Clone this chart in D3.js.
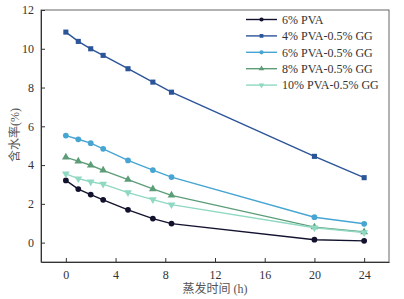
<!DOCTYPE html>
<html>
<head>
<meta charset="utf-8">
<script src="https://cdn.jsdelivr.net/npm/d3@7"></script>
<style>
  body { margin: 0; background: #fff; }
  svg { display: block; font-family: "Liberation Serif", "Noto Sans CJK SC", serif; }
</style>
</head>
<body>
<div id="chart"></div>
<script>
// evaporation time (h)
var hours = [0, 1, 2, 3, 5, 7, 8.5, 20, 24];

// water content (%) for each sample
var pva6 = [3.21, 2.76, 2.48, 2.21, 1.69, 1.24, 0.98, 0.15, 0.09];
var pva4gg = [10.86, 10.38, 10.0, 9.66, 8.97, 8.28, 7.76, 4.45, 3.35];
var pva6gg = [5.52, 5.33, 5.13, 4.84, 4.24, 3.74, 3.38, 1.31, 0.97];
var pva8gg = [4.40, 4.20, 3.99, 3.73, 3.25, 2.77, 2.44, 0.80, 0.55];
var pva10gg = [3.55, 3.30, 3.14, 3.02, 2.58, 2.22, 1.96, 0.77, 0.52];

var seriesNames = ["6% PVA", "4% PVA-0.5% GG", "6% PVA-0.5% GG", "8% PVA-0.5% GG", "10% PVA-0.5% GG"];
var xTicks = [0, 4, 8, 12, 16, 20, 24];
var yTicks = [0, 2, 4, 6, 8, 10, 12];

var series = [
    {name: seriesNames[0], values: pva6, color: "#12122e", symbol: d3.symbolCircle},
    {name: seriesNames[1], values: pva4gg, color: "#2b5499", symbol: d3.symbolSquare},
    {name: seriesNames[2], values: pva6gg, color: "#46a5d2", symbol: d3.symbolCircle},
    {name: seriesNames[3], values: pva8gg, color: "#5c9d78", symbol: d3.symbolTriangle},
    {name: seriesNames[4], values: pva10gg, color: "#8fd8c2", symbol: "down"}
];

var margin = {top: 10, right: 15, bottom: 37, left: 41},
    width = 404 - margin.left - margin.right,
    height = 299 - margin.top - margin.bottom;

var svg = d3.select("#chart").append("svg")
    .attr("width", 404)
    .attr("height", 299);
var g = svg.append("g")
    .attr("transform", "translate(" + margin.left + "," + margin.top + ")");

var x = d3.scaleLinear().domain([-2, 26]).range([0, width]),
    y = d3.scaleLinear().domain([-1, 12]).range([height, 0]);

// frame (top and right)
g.append("rect")
    .attr("width", width)
    .attr("height", height)
    .attr("fill", "none")
    .attr("stroke", "#666")
    .attr("stroke-width", 1);

var xAxis = g.append("g")
    .attr("transform", "translate(0," + height + ")")
    .call(d3.axisBottom(x).tickValues(xTicks).tickSizeInner(-4).tickSizeOuter(0).tickPadding(8));
var yAxis = g.append("g")
    .call(d3.axisLeft(y).tickValues(yTicks).tickSizeInner(-4).tickSizeOuter(0).tickPadding(7));

[xAxis, yAxis].forEach(function (a) {
    a.select(".domain").attr("stroke", "#333");
    a.selectAll(".tick line").attr("stroke", "#333");
    a.selectAll("text")
        .attr("font-family", "Liberation Serif")
        .attr("font-size", 12)
        .attr("fill", "#333");
});

// axis titles
svg.append("text")
    .attr("x", 215)
    .attr("y", 293)
    .attr("text-anchor", "middle")
    .attr("font-size", 12)
    .attr("fill", "#555")
    .text("蒸发时间 (h)");

svg.append("text")
    .attr("transform", "translate(19,135) rotate(-90)")
    .attr("text-anchor", "middle")
    .attr("font-size", 12)
    .attr("fill", "#555")
    .text("含水率(%)");

function symbolPath(s, size) {
    if (s === "down")
        return d3.symbol().type(d3.symbolTriangle).size(size)();
    return d3.symbol().type(s).size(size)();
}

var line = d3.line()
    .x(function (d) { return x(d[0]); })
    .y(function (d) { return y(d[1]); });

series.forEach(function (s) {
    var pts = hours.map(function (h, i) { return [h, s.values[i]]; });
    var sg = g.append("g");
    sg.append("path")
        .datum(pts)
        .attr("fill", "none")
        .attr("stroke", s.color)
        .attr("stroke-width", 1.4)
        .attr("d", line);
    sg.selectAll("path.pt")
        .data(pts)
        .enter().append("path")
        .attr("class", "pt")
        .attr("d", symbolPath(s.symbol, 26))
        .attr("fill", s.color)
        .attr("transform", function (d) {
            return "translate(" + x(d[0]) + "," + y(d[1]) + ")" + (s.symbol === "down" ? " rotate(180)" : "");
        });
});

// legend
var legend = svg.append("g")
    .selectAll("g")
    .data(series)
    .enter().append("g")
    .attr("transform", function (d, i) {
        return "translate(246," + (19.5 + i * 16.4) + ")";
    });

legend.append("line")
    .attr("x1", 0)
    .attr("x2", 31)
    .attr("stroke", function (d) { return d.color; })
    .attr("stroke-width", 1.4);

legend.append("path")
    .attr("d", function (d) { return symbolPath(d.symbol, 14); })
    .attr("fill", function (d) { return d.color; })
    .attr("transform", function (d) {
        return "translate(15.5,0)" + (d.symbol === "down" ? " rotate(180)" : "");
    });

legend.append("text")
    .attr("x", 36)
    .attr("dy", "0.35em")
    .attr("font-family", "Liberation Serif")
    .attr("font-size", 12)
    .attr("fill", "#333")
    .text(function (d) { return d.name; });
</script>
</body>
</html>
